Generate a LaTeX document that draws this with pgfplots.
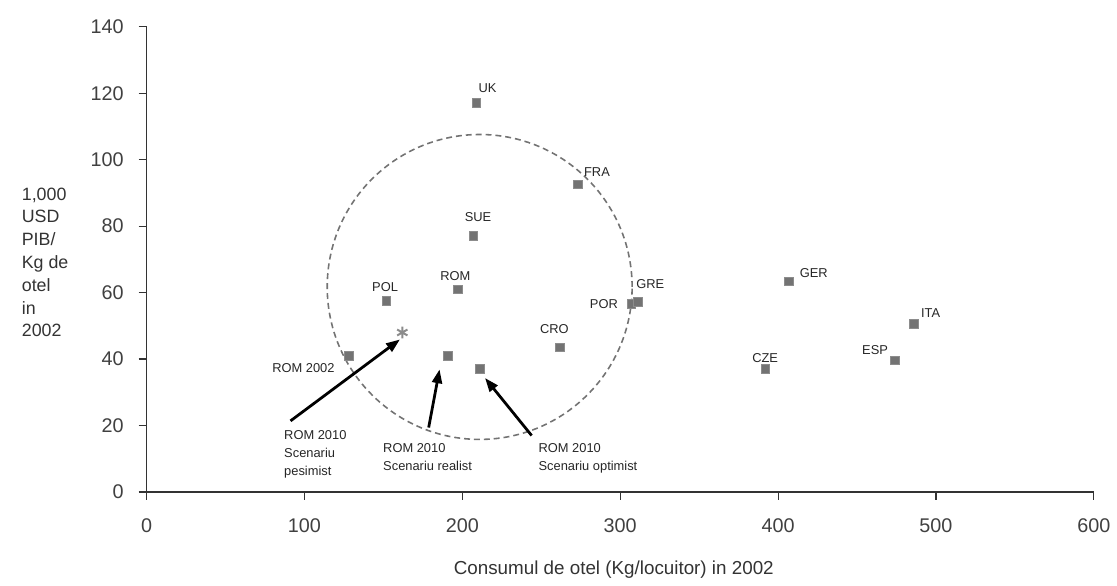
\documentclass[border=0pt]{standalone}
\usepackage{fontspec}
\setmainfont{Liberation Sans}
\usepackage{pgfplots}
\pgfplotsset{compat=1.18}
\usetikzlibrary{arrows.meta}
\pgfplotstableread{
x y
128 41
152 57.5
197 61
191 41
211 37
209 117
207 77
273 92.6
262 43.5
307 56.6
311 57.2
407 63.4
486 50.6
474 39.6
392 37
}\pts
\pgfplotstableread{
x y
162 48
}\pes
\begin{document}
\begin{tikzpicture}
\begin{axis}[
 at={(0,0)}, anchor=origin,
 scale only axis, width=478.5pt, height=235pt,
 xmin=0,xmax=600,ymin=0,ymax=140,
 axis x line*=bottom, axis y line*=left,
 axis line style={black!80, line width=0.8pt},
 xtick={0,100,...,600}, ytick={0,20,...,140},
 tick style={black!80, line width=0.6pt},
 major tick length=4pt,
 tick align=outside,
 /pgf/number format/assume math mode=true,
 ticklabel style={font=\fontsize{10}{12}\selectfont, text=black!75},
 xticklabel style={yshift=-6pt},
 yticklabel style={xshift=-4pt},
 clip=false,
]
\addplot[only marks, mark=square*, mark size=2.2pt, mark options={fill=black!55, draw=black!45}] table {\pts};
\addplot[only marks, mark=asterisk, mark size=3pt, mark options={draw=black!45, line width=1pt}] table {\pes};
\draw[black!55, densely dashed, line width=0.8pt] (axis cs:211,61.7) circle[radius=77pt];
\begin{scope}[every node/.style={font=\fontsize{6.5}{8}\selectfont, text=black!85}]
\node at (axis cs:216,121.5) {UK};
\node at (axis cs:285.3,96.2) {FRA};
\node at (axis cs:210,82.8) {SUE};
\node at (axis cs:195.6,64.9) {ROM};
\node at (axis cs:151.1,61.7) {POL};
\node at (axis cs:258.3,48.9) {CRO};
\node at (axis cs:289.7,56.6) {POR};
\node at (axis cs:319,62.6) {GRE};
\node at (axis cs:422.6,65.8) {GER};
\node at (axis cs:496.6,53.9) {ITA};
\node at (axis cs:461.4,42.6) {ESP};
\node at (axis cs:391.8,40.2) {CZE};
\node[anchor=east] at (axis cs:123.5,37.2) {ROM 2002};
\node[anchor=north west, align=left, font=\fontsize{6.5}{9}\selectfont] at (axis cs:82.8,20.5) {ROM 2010\\Scenariu\\pesimist};
\node[anchor=north west, align=left, font=\fontsize{6.5}{9}\selectfont] at (axis cs:145.5,16.6) {ROM 2010\\Scenariu realist};
\node[anchor=north west, align=left, font=\fontsize{6.5}{9}\selectfont] at (axis cs:243.9,16.6) {ROM 2010\\Scenariu optimist};
\end{scope}
\draw[-{Triangle[length=7pt,width=5pt]}, line width=1.4pt] (axis cs:91.2,21.4) -- (axis cs:160.5,45.9);
\draw[-{Triangle[length=7pt,width=5pt]}, line width=1.4pt] (axis cs:178.7,19.4) -- (axis cs:185.6,36.9);
\draw[-{Triangle[length=7pt,width=5pt]}, line width=1.4pt] (axis cs:243.9,17.0) -- (axis cs:214.4,34.3);
\end{axis}
\node[anchor=west, align=left, font=\fontsize{9}{11.5}\selectfont, text=black!80] at (-66.5pt,116pt) {1,000\\USD\\PIB/\\Kg de\\otel\\in\\2002};
\node[font=\fontsize{9.5}{11}\selectfont, text=black!80] at (236pt,-39pt) {Consumul de otel (Kg/locuitor) in 2002};
\path[use as bounding box] (-74pt,-47pt) rectangle (484.5pt,248.5pt);
\end{tikzpicture}
\end{document}
